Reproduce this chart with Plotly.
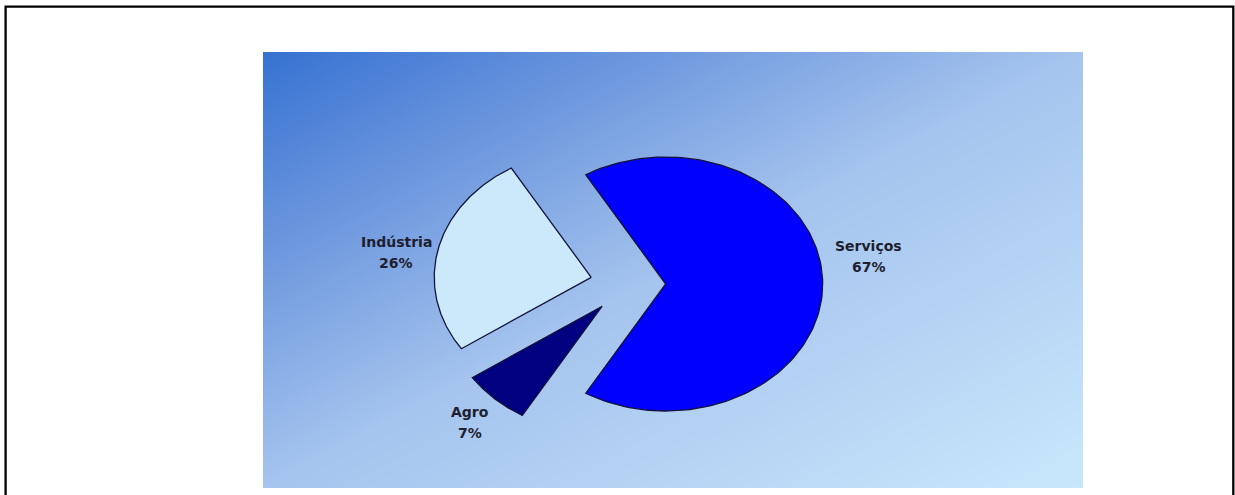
import base64
import numpy as np
import plotly.graph_objects as go

# Share of each sector (%)
sectors = ["Serviços", "Indústria", "Agro"]
shares = [67, 26, 7]
slice_colors = ["#0000ff", "#cce8fb", "#000080"]

W, H = 1235, 495

# Pie geometry in page pixels (the pie is drawn horizontally stretched)
cx, cy = 628.0, 284.0
rx, ry = 157.0, 127.0
pull = 0.24
label_k = 1.28
label_nudge = [(2, -28), (1, 11), (5, -2)]   # (dx, dy) per label
line_gap = 21

fig = go.Figure()

# Diagonal blue gradient panel behind the pie
svg = (
    '<svg xmlns="http://www.w3.org/2000/svg" width="820" height="436" '
    'preserveAspectRatio="none" viewBox="0 0 820 436">'
    '<defs><linearGradient id="g" x1="0" y1="0" x2="1" y2="1">'
    '<stop offset="0" stop-color="#3672d2"/>'
    '<stop offset="0.24" stop-color="#6e98de"/>'
    '<stop offset="0.5" stop-color="#a5c4ee"/>'
    '<stop offset="1" stop-color="#c9e7fb"/>'
    '</linearGradient></defs>'
    '<rect x="0" y="0" width="820" height="436" fill="url(#g)"/></svg>'
)
src = "data:image/svg+xml;base64," + base64.b64encode(svg.encode()).decode()
fig.add_layout_image(
    source=src, xref="x", yref="y", x=263, y=52, sizex=820, sizey=436,
    xanchor="left", yanchor="top", sizing="stretch", layer="below",
)

total = float(sum(shares))
start = -shares[0] / total * 360.0 / 2.0
annotations = []
for name, val, col, (ndx, ndy) in zip(sectors, shares, slice_colors, label_nudge):
    span = val / total * 360.0
    a0, a1 = start, start + span
    mid = np.radians((a0 + a1) / 2.0)
    # exploded apex
    ax_ = cx + pull * rx * np.cos(mid)
    ay_ = cy - pull * ry * np.sin(mid)
    th = np.radians(np.linspace(a0, a1, 160))
    xs = np.concatenate([[ax_], ax_ + rx * np.cos(th), [ax_]])
    ys = np.concatenate([[ay_], ay_ - ry * np.sin(th), [ay_]])
    fig.add_trace(go.Scatter(
        x=xs, y=ys, mode="lines", fill="toself", fillcolor=col,
        line=dict(color="#14143a", width=1.3), hoverinfo="skip", showlegend=False,
    ))
    lx = ax_ + label_k * rx * np.cos(mid) + ndx
    ly = ay_ - label_k * ry * np.sin(mid) + ndy
    for txt, off in ((name, -line_gap / 2), (f"{val}%", line_gap / 2)):
        annotations.append(dict(
            x=lx, y=ly + off, xref="x", yref="y", text=f"<b>{txt}</b>",
            showarrow=False, xanchor="center", yanchor="middle",
            font=dict(family="DejaVu Sans", size=14, color="#1e1e30"),
        ))
    start = a1

fig.update_layout(
    width=W, height=H,
    margin=dict(l=0, r=0, t=0, b=0),
    paper_bgcolor="white", plot_bgcolor="white",
    xaxis=dict(range=[0, W], visible=False, fixedrange=True),
    yaxis=dict(range=[H, 0], visible=False, fixedrange=True),
    annotations=annotations,
    shapes=[dict(type="rect", xref="x", yref="y", x0=5.6, x1=1233.3, y0=6.7, y1=H + 30,
                 line=dict(color="black", width=2.3), layer="above")],
    showlegend=False,
)

fig.write_html("out.html")
